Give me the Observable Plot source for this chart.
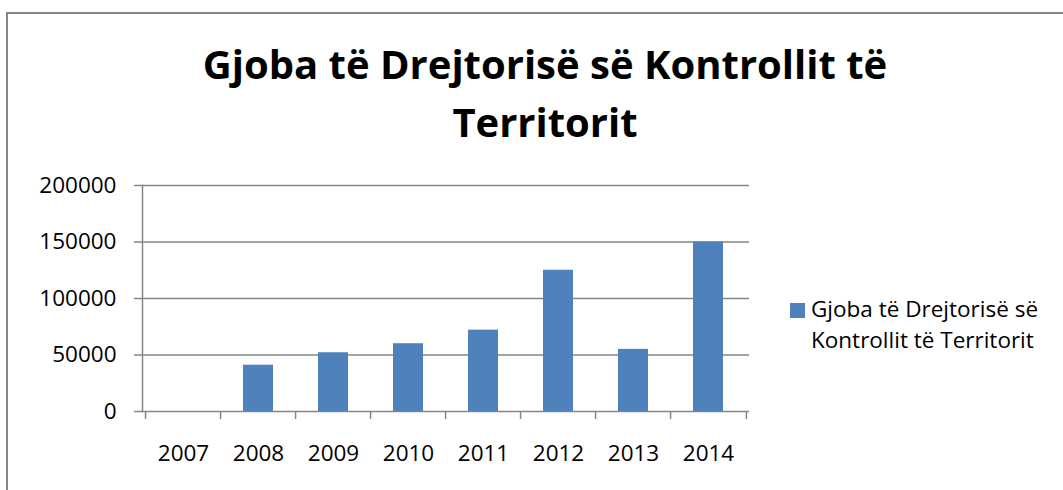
<!DOCTYPE html>
<html>
<head>
<meta charset="utf-8">
<script src="https://cdn.jsdelivr.net/npm/d3@7"></script>
<script src="https://cdn.jsdelivr.net/npm/@observablehq/plot@0.6"></script>
<style>
  html, body { margin: 0; padding: 0; background: #fff; }
  #wrap { position: relative; width: 1063px; height: 490px; overflow: hidden; font-family: "Open Sans", sans-serif; }
  #wrap svg { position: absolute; left: 0; top: 0; }
  #border { position: absolute; left: 6px; top: 12px; width: 1100px; height: 520px; border: 2px solid #868686; box-sizing: border-box; pointer-events: none; }
  #title { position: absolute; left: 0; top: 35px; width: 1090px; text-align: center; font-weight: 700; font-size: 40px; line-height: 58px; color: #000; }
  #legend-swatch { position: absolute; left: 790px; top: 303px; width: 15px; height: 15px; }
  #legend-text { position: absolute; left: 811px; top: 293px; font-size: 22.5px; line-height: 31px; color: #000; }
</style>
</head>
<body>
<div id="wrap"></div>
<script>
const titleLines = ["Gjoba të Drejtorisë së Kontrollit të", "Territorit"];
const seriesName = ["Gjoba të Drejtorisë së", "Kontrollit të Territorit"];
const years = ["2007", "2008", "2009", "2010", "2011", "2012", "2013", "2014"];
const values = [0, 41000, 52000, 60000, 72000, 125000, 55000, 150000];
const yTicks = [0, 50000, 100000, 150000, 200000];

const barColor = "#4F81BD";
const axisColor = "#868686";

const data = years.map((year, i) => ({year, value: values[i]}));

const W = 1063, H = 490;
const mL = 142, mR = 314, mT = 185, mB = 79;
const step = (W - mL - mR) / years.length;

const chart = Plot.plot({
  width: W,
  height: H,
  marginLeft: mL,
  marginRight: mR,
  marginTop: mT,
  marginBottom: mB,
  style: {fontFamily: "Open Sans, sans-serif", fontSize: "22.5px", color: "#000", background: "transparent"},
  x: {domain: years, paddingInner: 0.6, paddingOuter: 0.3, label: null},
  y: {domain: [0, 200000], label: null},
  marks: [
    Plot.gridY(yTicks, {stroke: axisColor, strokeOpacity: 1, strokeWidth: 1.5}),
    Plot.barY(data, {x: "year", y: "value", fill: barColor}),
    Plot.frame({anchor: "left", stroke: axisColor, strokeWidth: 1.5}),
    Plot.axisY(yTicks, {tickSize: 8, tickPadding: 18, tickFormat: d => String(d), stroke: axisColor, strokeWidth: 1.5, fill: "#000", label: null}),
    Plot.axisX(years, {tickSize: 8, dx: -step / 2, tickFormat: () => "", stroke: axisColor, strokeWidth: 1.5, label: null}),
    Plot.axisX([years[years.length - 1]], {tickSize: 8, dx: step / 2, tickFormat: () => "", stroke: axisColor, strokeWidth: 1.5, label: null}),
    Plot.axisX(years, {tickSize: 0, tickPadding: 34, fill: "#000", label: null})
  ]
});

const wrap = document.getElementById("wrap");
wrap.appendChild(chart);

const title = document.createElement("div");
title.id = "title";
title.innerHTML = titleLines.join("<br>");
wrap.appendChild(title);

const sw = document.createElement("div");
sw.id = "legend-swatch";
sw.style.background = barColor;
wrap.appendChild(sw);

const lt = document.createElement("div");
lt.id = "legend-text";
lt.innerHTML = seriesName.join("<br>");
wrap.appendChild(lt);

const border = document.createElement("div");
border.id = "border";
wrap.appendChild(border);
</script>
</body>
</html>
